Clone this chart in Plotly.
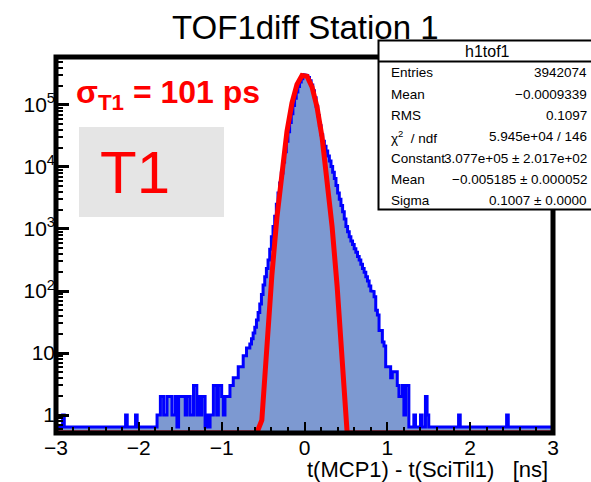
import numpy as np
import plotly.graph_objects as go

# ---------------- data ----------------
bin_low, bin_high, n_bins = -3.0, 3.0, 300

# bins -3.00 .. -1.00 (centres -2.99 .. -1.01)
counts_left = [
    0, 0, 0, 0, 1, 0, 0, 0, 0, 0,
    0, 0, 0, 0, 0, 0, 0, 0, 0, 0,
    0, 0, 0, 0, 0, 0, 0, 0, 0, 0,
    0, 0, 0, 0, 0, 0, 0, 0, 0, 0,
    0, 0, 1, 0, 0, 0, 0, 0, 1, 0,
    0, 0, 0, 0, 0, 0, 0, 0, 0, 0,
    0, 1, 1, 2, 2, 1, 1, 2, 2, 2,
    1, 1, 2, 0, 2, 2, 2, 2, 1, 2,
    2, 1, 1, 3, 3, 1, 2, 1, 2, 2,
    0, 1, 0, 1, 1, 3, 3, 1, 3, 3,
]
# bins -1.00 .. 1.00 (centres -0.99 .. 0.99)
counts_core = [
    2, 1, 2, 2, 2, 3, 3, 4, 4, 4,
    6, 6, 6, 9, 9, 12, 12, 14, 17, 21,
    26, 34, 45, 62, 88, 125, 170, 230, 316, 470,
    750, 1100, 1600, 2500, 3800, 5500, 8000, 12000, 17500, 26000,
    37000, 52000, 72000, 98000, 128000, 162000, 198000, 234000, 265000, 292000,
    306000, 298000, 276000, 246000, 209000, 169000, 130000, 95000, 67000, 46000,
    33000, 26000, 21500, 18000, 15000, 12500, 10200, 8200, 6500, 5000,
    3800, 3000, 2400, 1900, 1450, 1100, 900, 750, 640, 560,
    480, 420, 360, 316, 270, 230, 200, 170, 145, 120,
    100, 98, 81, 49, 41, 23, 23, 15, 13, 6,
]
# bins 1.00 .. 3.00 (centres 1.01 .. 2.99)
counts_right = [
    6, 6, 4, 5, 5, 5, 3, 2, 2, 3,
    1, 3, 3, 0, 0, 0, 1, 0, 0, 0,
    1, 0, 0, 2, 1, 0, 0, 0, 0, 0,
    0, 0, 0, 0, 0, 0, 0, 0, 0, 0,
    0, 0, 0, 1, 0, 0, 0, 0, 0, 0,
    0, 0, 0, 0, 0, 0, 0, 0, 0, 0,
    0, 0, 0, 0, 0, 0, 0, 0, 0, 0,
    0, 0, 1, 0, 0, 0, 0, 0, 0, 0,
    0, 0, 0, 0, 0, 0, 0, 0, 0, 0,
    0, 0, 0, 0, 0, 0, 0, 0, 0, 0,
]

fit_constant = 3.077e5
fit_mean = -0.005185
fit_sigma = 0.1007
fit_npx = 100

x_tickvals = [-3, -2, -1, 0, 1, 2, 3]
y_tickvals = [1, 10, 100, 1e3, 1e4, 1e5]
y_ticktext = ["1", "10", "10<sup>2</sup>", "10<sup>3</sup>", "10<sup>4</sup>", "10<sup>5</sup>"]

title_text = "TOF1diff Station 1"
x_title = "t(MCP1) - t(SciTil1)   [ns]"
stats_name = "h1tof1"
stats_labels = ["Entries", "Mean", "RMS", "χ<sup>2</sup>  / ndf", "Constant", "Mean", "Sigma"]
stats_values = ["3942074", "−0.0009339", "0.1097", "5.945e+04 / 146",
                "3.077e+05 ± 2.017e+02", "−0.005185 ± 0.000052", "0.1007 ± 0.0000"]
sigma_label = "<b>σ<sub>T1</sub> = 101 ps</b>"
tag_label = "T1"

# ---------------- geometry (pixels) ----------------
W, H = 591, 482
L, R, T, B = 56, 553, 57, 433
Y_LOG_MIN, Y_LOG_MAX = -0.289, 5.772
ZERO_LEVEL = 10 ** (-0.193)
Y_MIN = 10 ** Y_LOG_MIN

def pxx(p):
    return (p - L) / (R - L)

def pxy(p):
    return (B - p) / (B - T)

FONT = "Liberation Sans, Arial, Helvetica, sans-serif"

# ---------------- histogram ----------------
counts = np.array(counts_left + counts_core + counts_right, dtype=float)
edges = np.linspace(bin_low, bin_high, n_bins + 1)
draw = np.where(counts > 0, counts, ZERO_LEVEL)

step_x = np.repeat(edges, 2)[1:-1]
step_y = np.repeat(draw, 2)

fill_x = np.concatenate([[edges[0]], step_x, [edges[-1]]])
fill_y = np.concatenate([[Y_MIN * 0.5], step_y, [Y_MIN * 0.5]])

fig = go.Figure()
fig.add_trace(go.Scatter(x=fill_x, y=fill_y, mode="lines", fill="toself",
                         fillcolor="rgb(125,153,209)", line=dict(width=0),
                         hoverinfo="skip", showlegend=False))
fig.add_trace(go.Scatter(x=step_x, y=step_y, mode="lines",
                         line=dict(color="rgb(0,0,255)", width=3),
                         showlegend=False))

fx = np.linspace(bin_low, bin_high, fit_npx)
fy = fit_constant * np.exp(-0.5 * ((fx - fit_mean) / fit_sigma) ** 2)
fy = np.maximum(fy, Y_MIN)
fig.add_trace(go.Scatter(x=fx, y=fy, mode="lines",
                         line=dict(color="rgb(255,0,0)", width=5),
                         showlegend=False))

minor_y = [m * 10 ** d for d in range(-1, 6) for m in range(2, 10)]
minor_y = [v for v in minor_y if Y_LOG_MIN < np.log10(v) < Y_LOG_MAX]

fig.update_layout(
    width=W, height=H,
    margin=dict(l=L, r=W - R, t=T, b=H - B, pad=0),
    paper_bgcolor="white", plot_bgcolor="white",
    font=dict(family=FONT, color="black"),
    showlegend=False,
    xaxis=dict(range=[bin_low, bin_high], tickmode="array", tickvals=x_tickvals,
               ticks="inside", ticklen=11, tickwidth=2, tickcolor="black",
               showgrid=False, zeroline=False, showline=False,
               tickfont=dict(size=21, family=FONT),
               minor=dict(tickmode="linear", tick0=-3, dtick=0.2, ticks="inside",
                          ticklen=6, tickwidth=2, tickcolor="black", showgrid=False)),
    yaxis=dict(type="log", range=[Y_LOG_MIN, Y_LOG_MAX], tickmode="array",
               tickvals=y_tickvals, ticktext=y_ticktext,
               ticks="inside", ticklen=13, tickwidth=3, tickcolor="black",
               showgrid=False, zeroline=False, showline=False,
               tickfont=dict(size=21, family=FONT),
               minor=dict(tickmode="array", tickvals=minor_y, ticks="inside",
                          ticklen=7, tickwidth=2, tickcolor="black", showgrid=False)),
)

shapes = [
    dict(type="rect", xref="paper", yref="paper", x0=pxx(79), x1=pxx(224),
         y0=pxy(217), y1=pxy(127), fillcolor="rgb(229,229,229)",
         line=dict(width=0), layer="below"),
    dict(type="rect", xref="paper", yref="paper", x0=0, x1=1, y0=0, y1=1,
         line=dict(color="black", width=5), fillcolor="rgba(0,0,0,0)", layer="above"),
    dict(type="rect", xref="paper", yref="paper", x0=pxx(378.5), x1=pxx(600),
         y0=pxy(209.5), y1=pxy(40.5), fillcolor="white",
         line=dict(color="black", width=2), layer="above"),
    dict(type="line", xref="paper", yref="paper", x0=pxx(378.5), x1=pxx(600),
         y0=pxy(61.5), y1=pxy(61.5), line=dict(color="black", width=2), layer="above"),
]
fig.update_layout(shapes=shapes)

ann = []
ann.append(dict(text=title_text, x=pxx(305), y=pxy(27), xref="paper", yref="paper",
                xanchor="center", yanchor="middle", showarrow=False,
                font=dict(size=33, family=FONT, color="black")))
ann.append(dict(text=x_title, x=pxx(550), y=pxy(469), xref="paper", yref="paper",
                xanchor="right", yanchor="middle", showarrow=False,
                font=dict(size=22, family=FONT, color="black")))
ann.append(dict(text=sigma_label, x=pxx(74), y=pxy(94), xref="paper", yref="paper",
                xanchor="left", yanchor="middle", showarrow=False,
                font=dict(size=32, family=FONT, color="rgb(255,0,0)")))
ann.append(dict(text=tag_label, x=pxx(98), y=pxy(172), xref="paper", yref="paper",
                xanchor="left", yanchor="middle", showarrow=False,
                font=dict(size=60, family=FONT, color="rgb(255,0,0)")))
ann.append(dict(text=stats_name, x=pxx(487), y=pxy(51), xref="paper", yref="paper",
                xanchor="center", yanchor="middle", showarrow=False,
                font=dict(size=16, family=FONT, color="black")))
row_y = [72.3, 94, 115.3, 136.7, 158.3, 179.7, 200.7]
for lab, val, yy in zip(stats_labels, stats_values, row_y):
    ann.append(dict(text=lab, x=pxx(389), y=pxy(yy), xref="paper", yref="paper",
                    xanchor="left", yanchor="middle", showarrow=False,
                    font=dict(size=13.5, family=FONT, color="black")))
    ann.append(dict(text=val, x=pxx(588.5), y=pxy(yy), xref="paper", yref="paper",
                    xanchor="right", yanchor="middle", showarrow=False,
                    font=dict(size=13.5, family=FONT, color="black")))
fig.update_layout(annotations=ann)

fig.write_html("out.html")
